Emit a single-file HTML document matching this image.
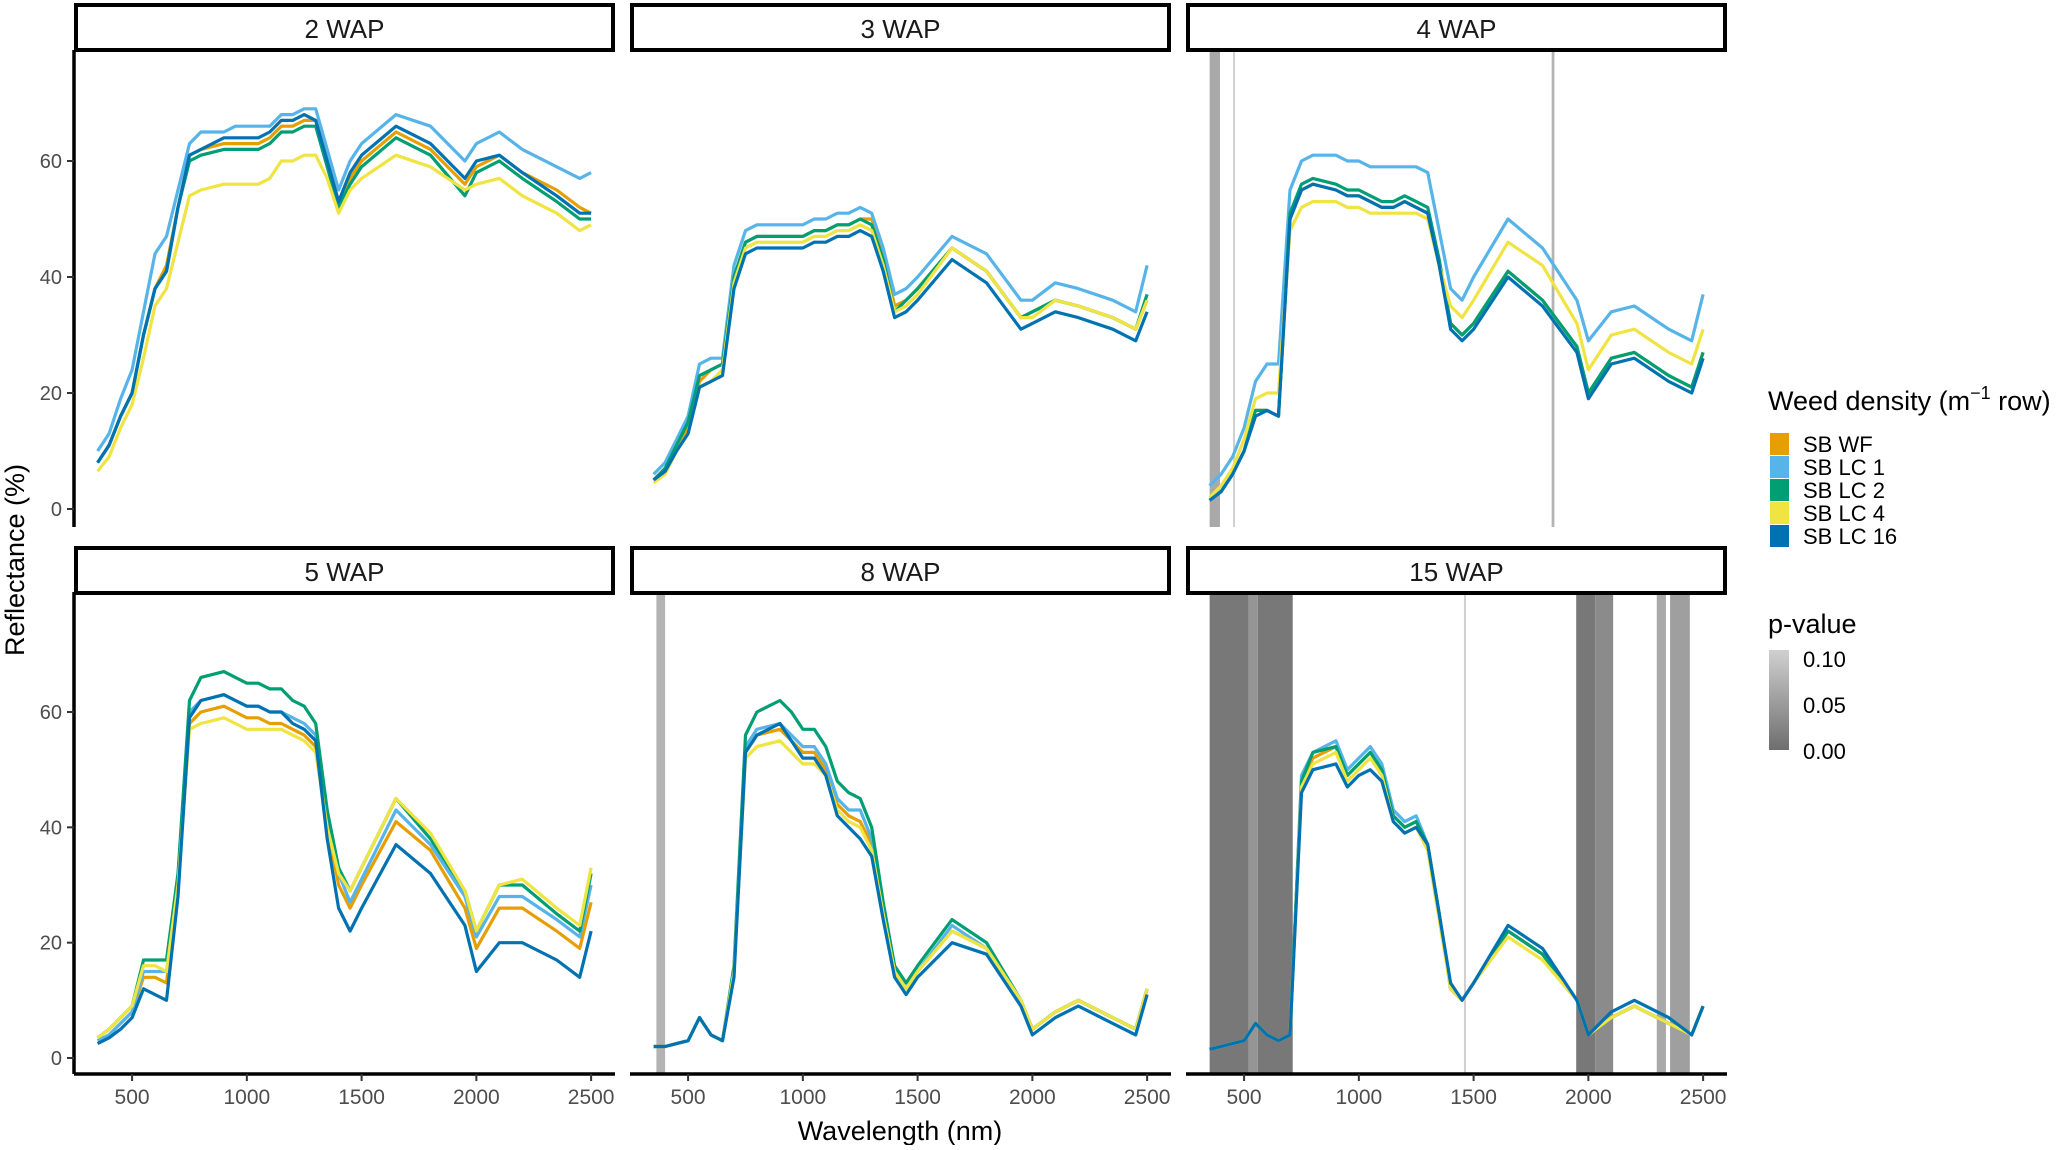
<!DOCTYPE html>
<html><head><meta charset="utf-8"><style>
html,body{margin:0;padding:0;background:#fff;}
svg text{font-family:"Liberation Sans",Arial,sans-serif;}
</style></head><body>
<svg id="chart" width="2067" height="1145" viewBox="0 0 2067 1145" xmlns="http://www.w3.org/2000/svg">
<rect width="2067" height="1145" fill="#fff"/>
<g id="panels"></g>
<text transform="translate(24,560) rotate(-90)" text-anchor="middle" font-size="27" fill="#000">Reflectance (%)</text>
<text x="900" y="1140" text-anchor="middle" font-size="27" fill="#000">Wavelength (nm)</text>
<g>
<text x="1768" y="410" font-size="27" fill="#000">Weed density (m<tspan dy="-11" font-size="18">−1</tspan><tspan dy="11"> row)</tspan></text>
<g id="legkeys"></g>
</g>
<g>
<text x="1768" y="633" font-size="27" fill="#000">p-value</text>
<defs><linearGradient id="pg" x1="0" y1="0" x2="0" y2="1"><stop offset="0" stop-color="#d0d0d0"/><stop offset="1" stop-color="#6e6e6e"/></linearGradient></defs>
<rect x="1769" y="650" width="20" height="100" fill="url(#pg)"/>
<text x="1803" y="667" font-size="22" fill="#000">0.10</text>
<text x="1803" y="713" font-size="22" fill="#000">0.05</text>
<text x="1803" y="759" font-size="22" fill="#000">0.00</text>
</g>
</svg>
<script>
const wavelengths=[350,400,450,500,550,600,650,700,750,800,900,950,1000,1050,1100,1150,1200,1250,1300,1350,1400,1450,1500,1650,1800,1950,2000,2100,2200,2350,2450,2500];
const seriesNames=["SB WF","SB LC 1","SB LC 2","SB LC 4","SB LC 16"];
const seriesColors=["#E69F00","#56B4E9","#009E73","#F0E442","#0072B2"];
const panelTitles=["2 WAP","3 WAP","4 WAP","5 WAP","8 WAP","15 WAP"];
const xTicks=[500,1000,1500,2000,2500];
const yTicks=[0,20,40,60];

const wap2_WF=[8,11,16,20,30,38,42,52,61,62,63,63,63,63,64,66,66,67,67,60,53,57,60,65,62,56,59,61,58,55,52,51];
const wap2_LC1=[10,13,19,24,34,44,47,55,63,65,65,66,66,66,66,68,68,69,69,62,55,60,63,68,66,60,63,65,62,59,57,58];
const wap2_LC2=[8,11,16,20,30,38,41,52,60,61,62,62,62,62,63,65,65,66,66,59,52,56,59,64,61,54,58,60,57,53,50,50];
const wap2_LC4=[6.5,9,14,18,26,35,38,46,54,55,56,56,56,56,57,60,60,61,61,57,51,55,57,61,59,55,56,57,54,51,48,49];
const wap2_LC16=[8,11,16,20,30,38,41,52,61,62,64,64,64,64,65,67,67,68,67,60,53,58,61,66,63,57,60,61,58,54,51,51];

const wap3_WF=[5,7,11,14,22,24,25,40,46,47,47,47,47,48,48,49,49,50,50,44,35,36,38,45,41,33,34,36,35,33,31,36];
const wap3_LC1=[6,8,12,16,25,26,26,42,48,49,49,49,49,50,50,51,51,52,51,45,37,38,40,47,44,36,36,39,38,36,34,42];
const wap3_LC2=[5,7,11,15,23,24,25,40,46,47,47,47,47,48,48,49,49,50,49,43,34,36,38,45,41,33,34,36,35,33,31,37];
const wap3_LC4=[4.5,6,10,13,21,22,24,39,45,46,46,46,46,47,47,48,48,49,48,42,34,35,37,45,41,33,33,36,35,33,31,36];
const wap3_LC16=[5,6.5,10,13,21,22,23,38,44,45,45,45,45,46,46,47,47,48,47,41,33,34,36,43,39,31,32,34,33,31,29,34];

const wap4_WF=[1.5,3,6,10,17,17,16,50,55,56,55,54,54,53,52,52,53,52,51,42,32,30,32,41,36,28,20,26,27,23,21,27];
const wap4_LC1=[4,6,9,14,22,25,25,55,60,61,61,60,60,59,59,59,59,59,58,48,38,36,40,50,45,36,29,34,35,31,29,37];
const wap4_LC2=[1.5,3,6,10,17,17,16,51,56,57,56,55,55,54,53,53,54,53,52,43,32,30,32,41,36,28,20,26,27,23,21,27];
const wap4_LC4=[2,4,7,12,19,20,20,48,52,53,53,52,52,51,51,51,51,51,50,42,35,33,36,46,42,32,24,30,31,27,25,31];
const wap4_LC16=[1.5,3,6,10,16,17,16,50,55,56,55,54,54,53,52,52,53,52,51,42,31,29,31,40,35,27,19,25,26,22,20,26];

const wap5_WF=[3,4,6,8,14,14,13,30,58,60,61,60,59,59,58,58,57,56,54,40,30,26,30,41,36,26,19,26,26,22,19,27];
const wap5_LC1=[3,4,6,8,15,15,15,30,60,62,63,62,61,61,60,60,59,58,56,41,32,27,31,43,37,28,21,28,28,24,21,30];
const wap5_LC2=[3.5,5,7,9,17,17,17,32,62,66,67,66,65,65,64,64,62,61,58,43,33,29,33,45,38,29,22,30,30,25,22,32];
const wap5_LC4=[3.5,5,7,9,16,16,15,30,57,58,59,58,57,57,57,57,56,55,53,40,32,29,33,45,39,29,22,30,31,26,23,33];
const wap5_LC16=[2.5,3.5,5,7,12,11,10,28,59,62,63,62,61,61,60,60,58,57,55,38,26,22,26,37,32,23,15,20,20,17,14,22];

const wap8_WF=[2,2,2.5,3,7,4,3,15,53,56,57,55,53,53,50,44,42,41,37,25,15,12,15,22,19,10,5,8,10,7,5,12];
const wap8_LC1=[2,2,2.5,3,7,4,3,15,54,57,58,56,54,54,51,45,43,43,38,26,15,12,15,23,19,10,5,8,10,7,5,12];
const wap8_LC2=[2,2,2.5,3,7,4,3,16,56,60,62,60,57,57,54,48,46,45,40,27,16,13,16,24,20,10,5,8,10,7,5,12];
const wap8_LC4=[2,2,2.5,3,7,4,3,15,52,54,55,53,51,51,49,43,41,40,36,25,15,12,15,22,19,10,5,8,10,7,5,12];
const wap8_LC16=[2,2,2.5,3,7,4,3,14,53,56,58,55,52,52,49,42,40,38,35,24,14,11,14,20,18,9,4,7,9,6,4,11];

const wap15_WF=[1.5,2,2.5,3,6,4,3,4,48,52,54,49,51,53,50,42,40,41,37,25,12,10,13,22,18,10,4,7,9,6,4,9];
const wap15_LC1=[1.5,2,2.5,3,6,4,3,4,49,53,55,50,52,54,51,43,41,42,37,25,12,10,13,22,18,10,4,7,9,6,4,9];
const wap15_LC2=[1.5,2,2.5,3,6,4,3,4,48,53,54,49,51,53,50,42,40,41,37,25,12,10,13,22,18,10,4,7,9,6,4,9];
const wap15_LC4=[1.5,2,2.5,3,6,4,3,4,47,51,53,48,50,52,49,41,39,40,36,24,12,10,13,21,17,10,4,7,9,6,4,9];
const wap15_LC16=[1.5,2,2.5,3,6,4,3,4,46,50,51,47,49,50,48,41,39,40,37,25,13,10,13,23,19,10,4,8,10,7,4,9];

// significance bands: [start nm, end nm, p-value]
const bands2=[];
const bands3=[];
const bands4=[[350,395,0.06],[452,458,0.1],[1840,1852,0.07]];
const bands5=[];
const bands8=[[362,400,0.07]];
const bands15=[[350,520,0.01],[520,560,0.04],[560,712,0.01],[1458,1465,0.1],[1947,2030,0.01],[2030,2108,0.03],[2298,2338,0.06],[2356,2442,0.05]];

const panelSeries=[
 [wap2_WF,wap2_LC1,wap2_LC2,wap2_LC4,wap2_LC16],
 [wap3_WF,wap3_LC1,wap3_LC2,wap3_LC4,wap3_LC16],
 [wap4_WF,wap4_LC1,wap4_LC2,wap4_LC4,wap4_LC16],
 [wap5_WF,wap5_LC1,wap5_LC2,wap5_LC4,wap5_LC16],
 [wap8_WF,wap8_LC1,wap8_LC2,wap8_LC4,wap8_LC16],
 [wap15_WF,wap15_LC1,wap15_LC2,wap15_LC4,wap15_LC16]];
const panelBands=[bands2,bands3,bands4,bands5,bands8,bands15];

const NS="http://www.w3.org/2000/svg";
function mk(tag,attrs,parent){const e=document.createElementNS(NS,tag);for(const k in attrs)e.setAttribute(k,attrs[k]);if(parent)parent.appendChild(e);return e;}
const colX=[74,630,1186], PW=541;
const rows=[{top:52,bottom:527,zero:509,y60:161,stripTop:3},{top:594,bottom:1074,zero:1058,y60:712,stripTop:546}];
const xmin=247,xmax=2604;
function pcol(p){const g=Math.round(Math.min(208,Math.max(110,110+p*980)));return `rgb(${g},${g},${g})`;}
const root=document.getElementById('panels');
panelTitles.forEach((title,pi)=>{
  const r=rows[Math.floor(pi/3)], c=pi%3, x0=colX[c];
  const xs=v=>x0+(v-xmin)/(xmax-xmin)*PW;
  const ys=v=>r.zero-(v/60)*(r.zero-r.y60);
  const g=mk('g',{},root);
  
  
  // bands
  panelBands[pi].forEach(b=>{
    const rc=mk('rect',{x:xs(b[0]),y:r.top,width:Math.max(2,xs(b[1])-xs(b[0])),height:r.bottom-r.top,fill:pcol(b[2])},g);
    
    
  });
  // series
  panelSeries[pi].forEach((vals,si)=>{
    const d=vals.map((v,i)=>(i?'L':'M')+xs(wavelengths[i]).toFixed(1)+','+ys(v).toFixed(1)).join('');
    const p=mk('path',{d:d,fill:'none',stroke:seriesColors[si],'stroke-width':3.2,'stroke-linejoin':'round'},g);
    
    
  });
  // strip
  const st=mk('rect',{x:x0+2,y:r.stripTop+2,width:PW-4,height:45,fill:'#fff',stroke:'#000','stroke-width':4},g);
  
  
  const tt=mk('text',{x:x0+PW/2,y:r.stripTop+35,'text-anchor':'middle','font-size':26,fill:'#1a1a1a'},g);
  tt.textContent=title;
  
  
  // y axis (first column)
  if(c===0){
    const ax=mk('line',{x1:x0,y1:r.top-2,x2:x0,y2:r.bottom,stroke:'#000','stroke-width':3.5},g);
    
    
    yTicks.forEach(t=>{
      mk('line',{x1:x0-7,y1:ys(t),x2:x0,y2:ys(t),stroke:'#333','stroke-width':2},g);
      const lt=mk('text',{x:x0-12,y:ys(t)+7,'text-anchor':'end','font-size':20,fill:'#4d4d4d'},g);
      lt.textContent=t;
      
      
    });
  }
  // x axis (bottom row)
  if(pi>=3){
    const ax=mk('line',{x1:x0,y1:r.bottom,x2:x0+PW,y2:r.bottom,stroke:'#000','stroke-width':3.5},g);
    
    
    xTicks.forEach(t=>{
      mk('line',{x1:xs(t),y1:r.bottom,x2:xs(t),y2:r.bottom+7,stroke:'#333','stroke-width':2},g);
      const lt=mk('text',{x:xs(t),y:r.bottom+30,'text-anchor':'middle','font-size':21,fill:'#4d4d4d'},g);
      lt.textContent=t;
      
      
    });
  }
});
const lk=document.getElementById('legkeys');
seriesNames.forEach((n,i)=>{
  const y=433+i*23;
  const r=mk('rect',{x:1770,y:y,width:19,height:22,fill:seriesColors[i]},lk);
  
  
  const t=mk('text',{x:1803,y:y+19,'font-size':22,fill:'#000'},lk);
  t.textContent=n;
  
  
});
</script>
</body></html>
